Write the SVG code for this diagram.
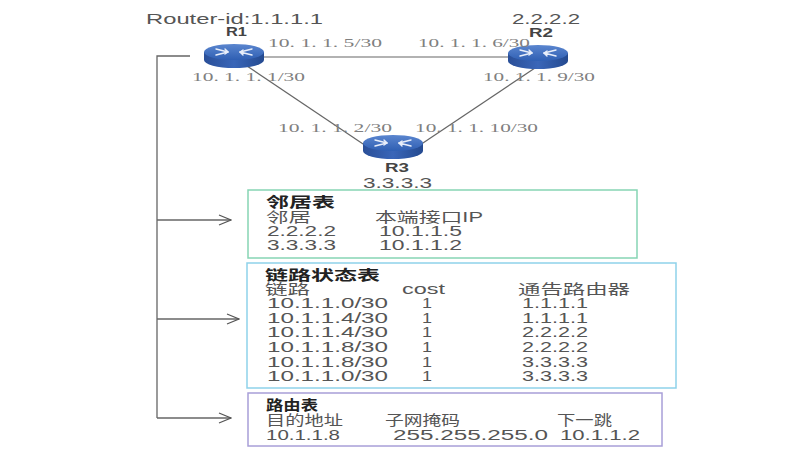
<svg xmlns="http://www.w3.org/2000/svg" width="800" height="450" viewBox="0 0 800 450">
<defs>
<linearGradient id="top" x1="0" y1="0" x2="0" y2="1">
<stop offset="0" stop-color="#5b86cf"/><stop offset="1" stop-color="#2f5fb3"/>
</linearGradient>
<linearGradient id="side" x1="0" y1="0" x2="1" y2="0">
<stop offset="0" stop-color="#2a4f98"/><stop offset="0.5" stop-color="#3a66b8"/><stop offset="1" stop-color="#244a90"/>
</linearGradient>
<g id="router">
<path d="M-30,0 L-30,8 A30,8 0 0 0 30,8 L30,0 Z" fill="url(#side)"/>
<ellipse cx="0" cy="0" rx="30" ry="8" fill="url(#top)"/>
<g stroke="#e8eefa" stroke-width="1.4" fill="none" stroke-linecap="round">
<path d="M-18,-3 L-6,0 M-9,-3 L-6,0 L-9,2"/>
<path d="M18,3 L6,0 M9,3 L6,0 L9,-2"/>
<path d="M18,-3 L6,0"/>
<path d="M-18,3 L-6,0"/>
</g>
</g>
<marker id="arr" markerWidth="14" markerHeight="12" refX="13" refY="6" orient="auto" markerUnits="userSpaceOnUse">
<path d="M1,1 L13,6 L1,11" fill="none" stroke="#555" stroke-width="1.2"/>
</marker>
</defs>
<style>
.lbl{font-family:"Liberation Serif",serif;font-size:12px;fill:#808080;}
.rid{font-family:"Liberation Sans","Noto Sans CJK SC",sans-serif;font-size:15px;fill:#555;}
.rn{font-family:"Liberation Sans",sans-serif;font-size:12px;font-weight:bold;fill:#444;}
.t{font-family:"Liberation Sans","Noto Sans CJK SC",sans-serif;font-size:14px;fill:#555;}
.h{font-family:"Liberation Sans","Noto Sans CJK SC",sans-serif;font-size:14px;font-weight:bold;fill:#222;}
.link{stroke:#666;stroke-width:1.2;fill:none;}
.br{stroke:#666;stroke-width:1.3;fill:none;}
</style>
<rect width="800" height="450" fill="#fff"/>
<g id="connectors">
<line class="link" x1="262" y1="57" x2="508" y2="57"/>
<line class="link" x1="244" y1="64" x2="372" y2="150"/>
<line class="link" x1="538" y1="66" x2="414" y2="149"/>
<path class="br" d="M190,56 H157 V418"/>
<line class="br" x1="157" y1="220" x2="231" y2="220" marker-end="url(#arr)"/>
<line class="br" x1="157" y1="319" x2="239" y2="319" marker-end="url(#arr)"/>
<line class="br" x1="157" y1="418" x2="231" y2="418" marker-end="url(#arr)"/>
</g>
<g id="R1">
<use href="#router" x="234" y="52"/>
<text class="rid" x="146" y="24" textLength="177" lengthAdjust="spacingAndGlyphs">Router-id:1.1.1.1</text>
<text class="rn" x="226" y="36" textLength="21" lengthAdjust="spacingAndGlyphs">R1</text>
<text class="lbl" x="268" y="47" textLength="114" lengthAdjust="spacingAndGlyphs">10. 1. 1. 5/30</text>
<text class="lbl" x="192" y="81" textLength="113" lengthAdjust="spacingAndGlyphs">10. 1. 1. 1/30</text>
</g>
<g id="R2">
<use href="#router" x="538" y="53"/>
<text class="rid" x="512" y="24" textLength="68" lengthAdjust="spacingAndGlyphs">2.2.2.2</text>
<text class="rn" x="529" y="37" textLength="24" lengthAdjust="spacingAndGlyphs">R2</text>
<text class="lbl" x="418" y="47" textLength="112" lengthAdjust="spacingAndGlyphs">10. 1. 1. 6/30</text>
<text class="lbl" x="483" y="81" textLength="112" lengthAdjust="spacingAndGlyphs">10. 1. 1. 9/30</text>
</g>
<g id="R3">
<use href="#router" x="393" y="143"/>
<text class="lbl" x="278" y="132" textLength="114" lengthAdjust="spacingAndGlyphs">10. 1. 1. 2/30</text>
<text class="lbl" x="415" y="132" textLength="123" lengthAdjust="spacingAndGlyphs">10. 1. 1. 10/30</text>
<text class="rn" x="385" y="172" textLength="24" lengthAdjust="spacingAndGlyphs">R3</text>
<text class="rid" x="363" y="188" textLength="69" lengthAdjust="spacingAndGlyphs">3.3.3.3</text>
</g>
<g id="neighbor-table">
<rect x="248" y="190" width="389" height="68" fill="#fff" stroke="#86d5b4" stroke-width="1.5"/>
<text class="h" x="266" y="207" textLength="69" lengthAdjust="spacingAndGlyphs">邻居表</text>
<text class="t" x="266" y="222" textLength="45" lengthAdjust="spacingAndGlyphs">邻居</text>
<text class="t" x="375" y="222" textLength="108" lengthAdjust="spacingAndGlyphs">本端接口IP</text>
<text class="t" x="267" y="236" textLength="69" lengthAdjust="spacingAndGlyphs">2.2.2.2</text>
<text class="t" x="379" y="236" textLength="83" lengthAdjust="spacingAndGlyphs">10.1.1.5</text>
<text class="t" x="267" y="250" textLength="69" lengthAdjust="spacingAndGlyphs">3.3.3.3</text>
<text class="t" x="379" y="250" textLength="83" lengthAdjust="spacingAndGlyphs">10.1.1.2</text>
</g>
<g id="lsdb">
<rect x="247" y="263" width="429" height="125" fill="#fff" stroke="#8ed2ea" stroke-width="1.5"/>
<text class="h" x="265" y="280" textLength="115" lengthAdjust="spacingAndGlyphs">链路状态表</text>
<text class="t" x="265" y="294" textLength="45" lengthAdjust="spacingAndGlyphs">链路</text>
<text class="t" x="402" y="294" textLength="43" lengthAdjust="spacingAndGlyphs">cost</text>
<text class="t" x="518" y="294" textLength="112" lengthAdjust="spacingAndGlyphs">通告路由器</text>
<text class="t" x="267" y="308" textLength="121" lengthAdjust="spacingAndGlyphs">10.1.1.0/30</text><text class="t" x="422" y="308" textLength="10" lengthAdjust="spacingAndGlyphs">1</text><text class="t" x="522" y="308" textLength="66" lengthAdjust="spacingAndGlyphs">1.1.1.1</text>
<text class="t" x="267" y="323" textLength="121" lengthAdjust="spacingAndGlyphs">10.1.1.4/30</text><text class="t" x="422" y="323" textLength="10" lengthAdjust="spacingAndGlyphs">1</text><text class="t" x="522" y="323" textLength="66" lengthAdjust="spacingAndGlyphs">1.1.1.1</text>
<text class="t" x="267" y="337" textLength="121" lengthAdjust="spacingAndGlyphs">10.1.1.4/30</text><text class="t" x="422" y="337" textLength="10" lengthAdjust="spacingAndGlyphs">1</text><text class="t" x="522" y="337" textLength="66" lengthAdjust="spacingAndGlyphs">2.2.2.2</text>
<text class="t" x="267" y="352" textLength="121" lengthAdjust="spacingAndGlyphs">10.1.1.8/30</text><text class="t" x="422" y="352" textLength="10" lengthAdjust="spacingAndGlyphs">1</text><text class="t" x="522" y="352" textLength="66" lengthAdjust="spacingAndGlyphs">2.2.2.2</text>
<text class="t" x="267" y="367" textLength="121" lengthAdjust="spacingAndGlyphs">10.1.1.8/30</text><text class="t" x="422" y="367" textLength="10" lengthAdjust="spacingAndGlyphs">1</text><text class="t" x="522" y="367" textLength="66" lengthAdjust="spacingAndGlyphs">3.3.3.3</text>
<text class="t" x="267" y="381" textLength="121" lengthAdjust="spacingAndGlyphs">10.1.1.0/30</text><text class="t" x="422" y="381" textLength="10" lengthAdjust="spacingAndGlyphs">1</text><text class="t" x="522" y="381" textLength="66" lengthAdjust="spacingAndGlyphs">3.3.3.3</text>
</g>
<g id="routing-table">
<rect x="248" y="393" width="414" height="53" fill="#fff" stroke="#a89fd8" stroke-width="1.5"/>
<text class="h" x="266" y="410" textLength="52" lengthAdjust="spacingAndGlyphs">路由表</text>
<text class="t" x="266" y="425" textLength="77" lengthAdjust="spacingAndGlyphs">目的地址</text>
<text class="t" x="385" y="425" textLength="75" lengthAdjust="spacingAndGlyphs">子网掩码</text>
<text class="t" x="557" y="425" textLength="55" lengthAdjust="spacingAndGlyphs">下一跳</text>
<text class="t" x="266" y="440" textLength="74" lengthAdjust="spacingAndGlyphs">10.1.1.8</text>
<text class="t" x="393" y="440" textLength="155" lengthAdjust="spacingAndGlyphs">255.255.255.0</text>
<text class="t" x="560" y="440" textLength="80" lengthAdjust="spacingAndGlyphs">10.1.1.2</text>
</g>
</svg>
